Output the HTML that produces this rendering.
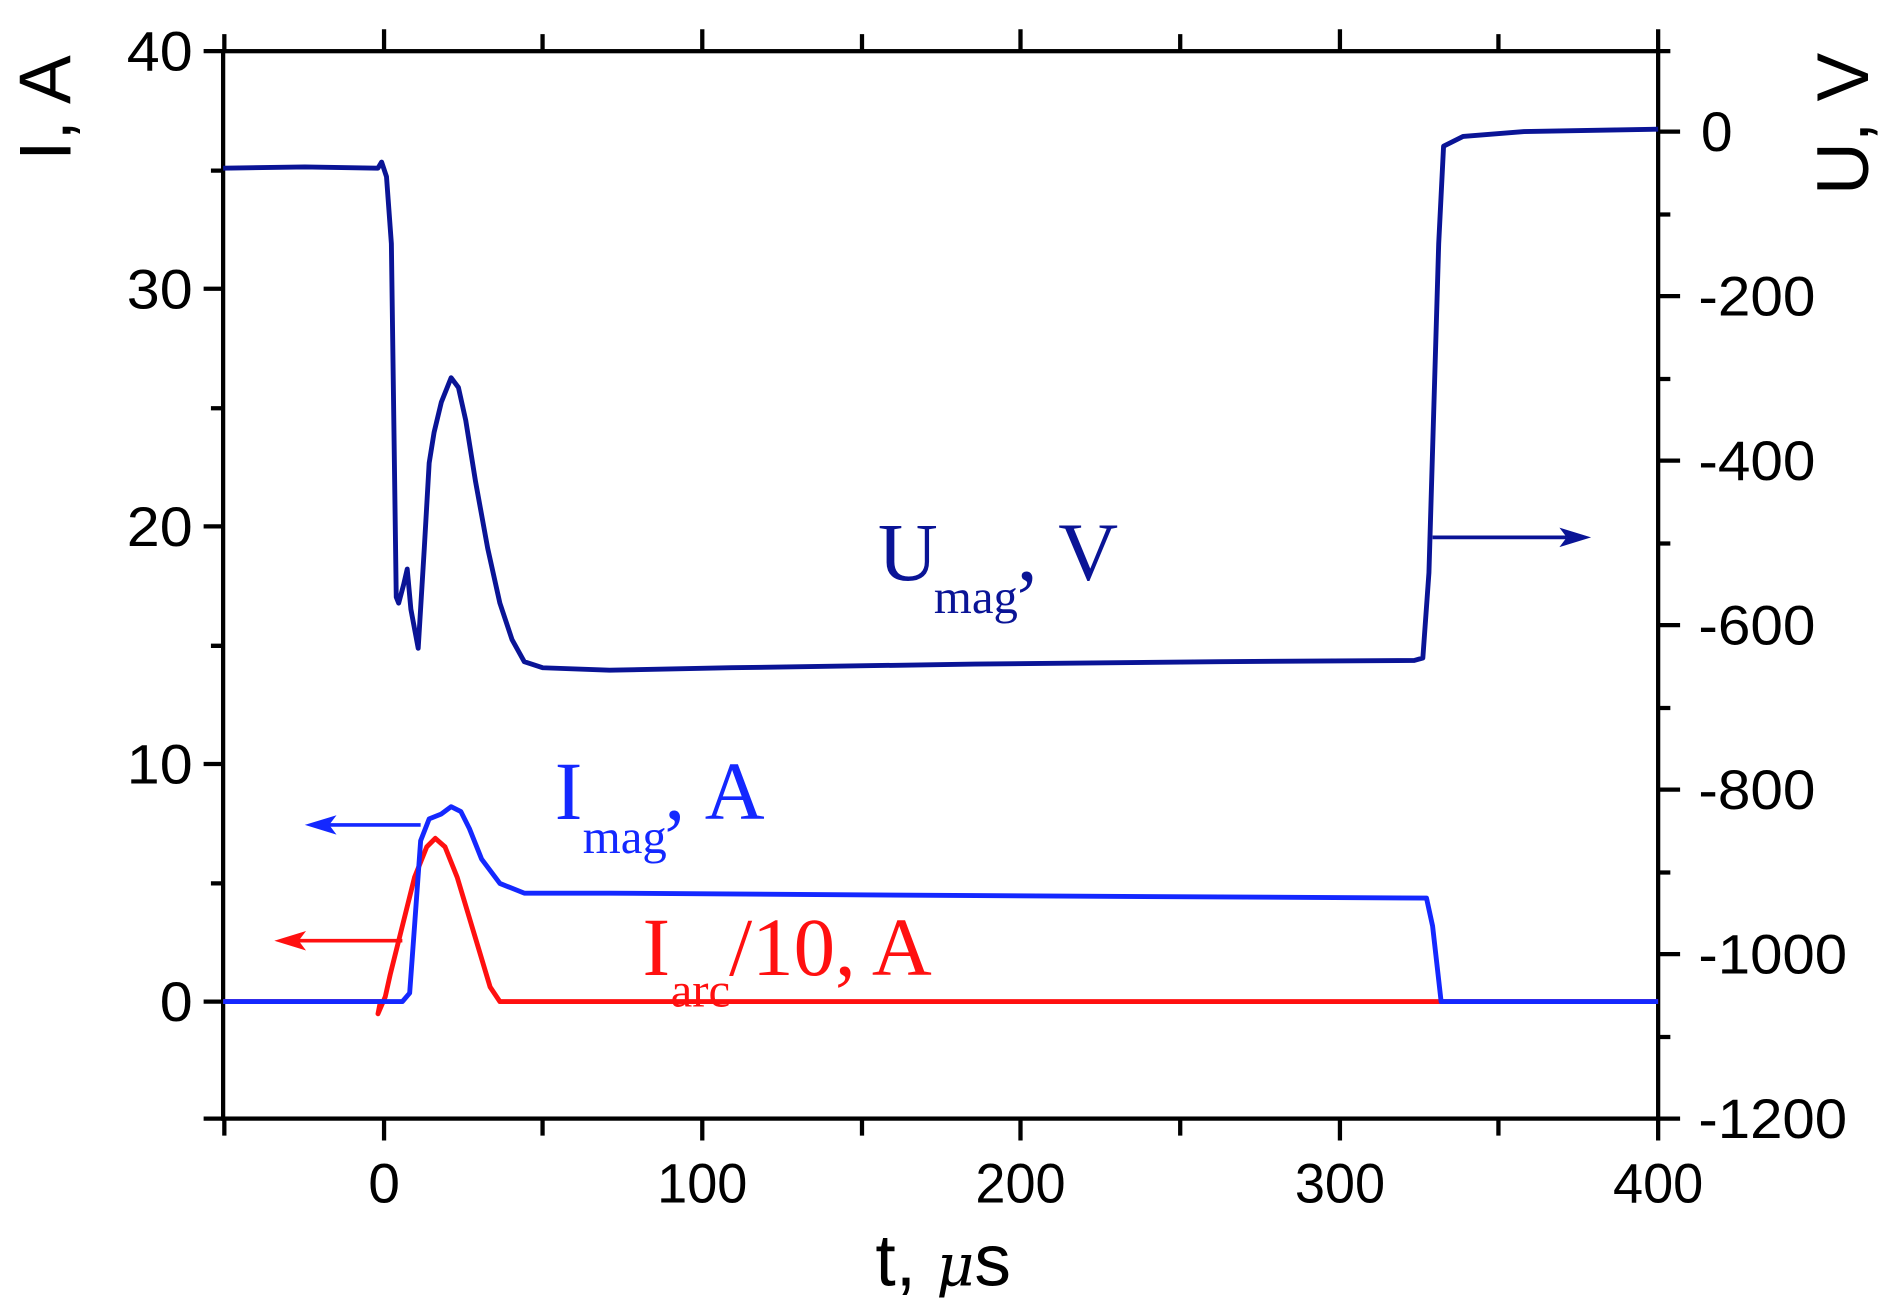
<!DOCTYPE html>
<html><head><meta charset="utf-8"><style>html,body{margin:0;padding:0;background:#fff}svg{display:block}</style></head>
<body>
<svg width="1902" height="1316" viewBox="0 0 1560 1080" preserveAspectRatio="none" xmlns="http://www.w3.org/2000/svg">
<g stroke="#000" stroke-width="3.5" fill="none">
<rect x="183" y="42" width="1177" height="876"/>
<path d="M184 918v14M315 918v18M445 918v14M576 918v18M707 918v14M837 918v18M968 918v14M1099 918v18M1229 918v14M1360 918v18"/>
<path d="M184 42v-14M315 42v-18M445 42v-14M576 42v-18M707 42v-14M837 42v-18M968 42v-14M1099 42v-18M1229 42v-14M1360 42v-18"/>
<path d="M183 42h-16M183 140h-10M183 237h-16M183 335h-10M183 432h-16M183 530h-10M183 627h-16M183 725h-10M183 822h-16M183 918h-16"/>
<path d="M1360 108h18M1360 176h10M1360 243h18M1360 311h10M1360 378h18M1360 446h10M1360 513h18M1360 581h10M1360 648h18M1360 716h10M1360 783h18M1360 851h10M1360 918h18M1360 42h10"/>
</g>
<g font-family="Liberation Sans, sans-serif" font-size="46" fill="#000">
<g text-anchor="end">
<text x="158" y="58" textLength="54" lengthAdjust="spacingAndGlyphs">40</text>
<text x="158" y="253" textLength="54" lengthAdjust="spacingAndGlyphs">30</text>
<text x="158" y="448" textLength="54" lengthAdjust="spacingAndGlyphs">20</text>
<text x="158" y="643" textLength="54" lengthAdjust="spacingAndGlyphs">10</text>
<text x="158" y="838" textLength="27" lengthAdjust="spacingAndGlyphs">0</text>
</g>
<g text-anchor="middle">
<text x="315" y="987" textLength="26" lengthAdjust="spacingAndGlyphs">0</text>
<text x="576" y="987" textLength="74" lengthAdjust="spacingAndGlyphs">100</text>
<text x="837" y="987" textLength="74" lengthAdjust="spacingAndGlyphs">200</text>
<text x="1099" y="987" textLength="74" lengthAdjust="spacingAndGlyphs">300</text>
<text x="1360" y="987" textLength="74" lengthAdjust="spacingAndGlyphs">400</text>
</g>
<text x="1395" y="124" textLength="26" lengthAdjust="spacingAndGlyphs">0</text>
<text x="1393" y="259" textLength="96" lengthAdjust="spacingAndGlyphs">-200</text>
<text x="1393" y="394" textLength="96" lengthAdjust="spacingAndGlyphs">-400</text>
<text x="1393" y="529" textLength="96" lengthAdjust="spacingAndGlyphs">-600</text>
<text x="1393" y="664" textLength="96" lengthAdjust="spacingAndGlyphs">-800</text>
<text x="1393" y="799" textLength="122" lengthAdjust="spacingAndGlyphs">-1000</text>
<text x="1393" y="934" textLength="122" lengthAdjust="spacingAndGlyphs">-1200</text>
<text x="718" y="1055" font-size="60">t, <tspan font-style="italic" font-family="DejaVu Serif, serif" font-size="48">μ</tspan><tspan>s</tspan></text>
<text transform="translate(58,132) rotate(-90)" font-size="60">I, A</text>
<text transform="translate(1532,160) rotate(-90)" font-size="60">U, V</text>
</g>
<g fill="none" stroke-width="4" stroke-linejoin="round">
<polyline stroke="#0a1496" points="183,138 250,137 310,138 313,133 317,145 321,200 325,490 327,495 331,480 334,467 337,500 343,532 348,450 352,380 356,355 362,330 370,310 376,318 382,345 390,395 400,450 410,495 420,525 430,543 445,548 500,550 600,548 800,545 1000,543 1160,542 1167,540 1172,470 1180,200 1184,120 1200,112 1250,108 1360,106"/>
<polyline stroke="#ff1010" points="183,822 312,822 310,832 316,818 320,800 330,760 340,720 350,695 357,688 365,695 375,720 390,770 402,810 410,822 1360,822"/>
<polyline stroke="#1428ff" points="183,822 330,822 336,815 340,760 345,690 352,672 362,668 370,662 378,666 385,680 395,705 410,725 430,733 500,733 800,735 1170,737 1175,760 1182,822 1360,822"/>
<path stroke="#0a1496" stroke-width="3" d="M1175 441H1285"/>
<path stroke="#1428ff" stroke-width="3" d="M345 677H265"/>
<path stroke="#ff1010" stroke-width="3" d="M330 772H240"/>
</g>
<path fill="#0a1496" d="M1305 441l-26 -8l6 8l-6 8z"/>
<path fill="#1428ff" d="M250 677l26 -8l-6 8l6 8z"/>
<path fill="#ff1010" d="M225 772l26 -8l-6 8l6 8z"/>
<g font-family="Liberation Serif, serif">
<text x="720" y="476" font-size="68" fill="#0a1496">U</text>
<text x="766" y="503" font-size="40" fill="#0a1496">mag</text>
<text x="834" y="476" font-size="68" fill="#0a1496">,</text>
<text x="868" y="476" font-size="68" fill="#0a1496">V</text>
<text x="455" y="672" font-size="68" fill="#1428ff">I</text>
<text x="478" y="700" font-size="40" fill="#1428ff">mag</text>
<text x="545" y="672" font-size="68" fill="#1428ff">,</text>
<text x="578" y="672" font-size="68" fill="#1428ff">A</text>
<text x="527" y="800" font-size="68" fill="#ff1010">I</text>
<text x="550" y="826" font-size="40" fill="#ff1010">arc</text>
<text x="598" y="800" font-size="68" fill="#ff1010">/10, A</text>
</g>
</svg>
</body></html>
